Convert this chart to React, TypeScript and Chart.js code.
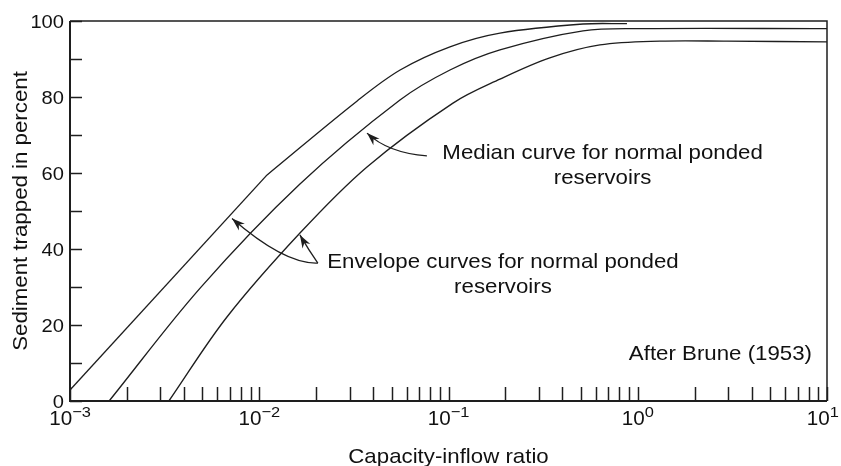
import React, { useEffect, useRef } from 'react';
import { Chart, registerables } from 'chart.js';

Chart.register(...registerables);

// ---- data (x = capacity-inflow ratio, y = % trapped) ----
// upper envelope: straight part up to the kink, then the curved part
const upperStraightX = [0.001, 0.011];
const upperStraightY = [2.9, 59.5];
const upperCurveX = [0.011, 0.0328, 0.0555, 0.1018, 0.187, 0.514, 0.877];
const upperCurveY = [59.5, 78.9, 87.1, 93.2, 96.8, 99.2, 99.3];

const medianX = [0.00161, 0.00487, 0.01641, 0.0554, 0.1018, 0.187, 0.514, 1.03, 10];
const medianY = [0, 29.7, 57.1, 79.2, 87.1, 92.4, 97.4, 98.0, 98.0];

const lowerX = [0.00333, 0.00675, 0.01641, 0.0371, 0.1056, 0.187, 0.343, 0.631, 1.31, 2.96, 10];
const lowerY = [0, 22.1, 44.2, 61.6, 78.4, 84.7, 90.3, 93.7, 94.7, 94.7, 94.5];

const xDecadeExponents = [-3, -2, -1, 0, 1];
const xMinorMultipliers = [1, 2, 3, 4, 5, 6, 7, 8, 9];
const yTickValues = [0, 10, 20, 30, 40, 50, 60, 70, 80, 90, 100];
const yLabelValues = [0, 20, 40, 60, 80, 100];

const xTitle = 'Capacity-inflow ratio';
const yTitle = 'Sediment trapped in percent';
const medianLabel = ['Median curve for normal ponded', 'reservoirs'];
const envelopeLabel = ['Envelope curves for normal ponded', 'reservoirs'];
const sourceLabel = 'After Brune (1953)';

// annotation anchors in data coordinates
const medianLabelAt = { x: 0.652, y: [63.7, 57.1] };
const envelopeLabelAt = { x: 0.194, y: [35.0, 28.4] };
const sourceLabelAt = { x: 8.33, y: 10.8 };
const medianArrow = { tail: [0.0769, 64.5], ctrl: [0.0479, 65.3], head: [0.0371, 70.5] };
const envelopeArrowUpper = { tail: [0.0204, 36.3], ctrl: [0.01368, 35.9], head: [0.00718, 48.0] };
const envelopeArrowLower = { tail: [0.0204, 36.3], ctrl: [0.0182, 39.8], head: [0.0164, 43.7] };

const FONT = '"Liberation Sans", Arial, Helvetica, sans-serif';
const SX = 1.06;
const INK = '#1e1e1e';
const TEXT = '#111111';

const toPts = (xs: number[], ys: number[]) => xs.map((x, i) => ({ x, y: ys[i] }));

function stretchText(ctx: CanvasRenderingContext2D, text: string, x: number, y: number, align: string, size: number) {
  ctx.save();
  ctx.font = `${size}px ${FONT}`;
  const w = ctx.measureText(text).width * SX;
  const left = align === 'center' ? x - w / 2 : align === 'right' ? x - w : x;
  ctx.translate(left, y);
  ctx.scale(SX, 1);
  ctx.textAlign = 'left';
  ctx.textBaseline = 'alphabetic';
  ctx.fillStyle = TEXT;
  ctx.fillText(text, 0, 0);
  ctx.restore();
}

function textWidth(ctx: CanvasRenderingContext2D, text: string, size: number) {
  ctx.save();
  ctx.font = `${size}px ${FONT}`;
  const w = ctx.measureText(text).width * SX;
  ctx.restore();
  return w;
}

function arrowHead(ctx: CanvasRenderingContext2D, hx: number, hy: number, fx: number, fy: number) {
  const a = Math.atan2(hy - fy, hx - fx);
  const L = 13, W = 4.5, N = 9;
  ctx.save();
  ctx.translate(hx, hy);
  ctx.rotate(a);
  ctx.beginPath();
  ctx.moveTo(0, 0);
  ctx.lineTo(-L, -W);
  ctx.lineTo(-N, 0);
  ctx.lineTo(-L, W);
  ctx.closePath();
  ctx.fillStyle = INK;
  ctx.fill();
  ctx.restore();
}

const decorPlugin = {
  id: 'decor',
  afterDraw(chart: any) {
    const ctx: CanvasRenderingContext2D = chart.ctx;
    const xs = chart.scales.x;
    const ys = chart.scales.y;
    const { left, right, top, bottom } = chart.chartArea;
    const P = (v: number[]) => [xs.getPixelForValue(v[0]), ys.getPixelForValue(v[1])];

    ctx.save();
    ctx.strokeStyle = INK;
    ctx.lineCap = 'butt';

    // frame
    ctx.lineWidth = 1.5;
    ctx.beginPath();
    ctx.moveTo(left, top);
    ctx.lineTo(right, top);
    ctx.lineTo(right, bottom);
    ctx.stroke();
    ctx.lineWidth = 2;
    ctx.beginPath();
    ctx.moveTo(left, top);
    ctx.lineTo(left, bottom);
    ctx.lineTo(right, bottom);
    ctx.stroke();

    // y ticks (inward)
    ctx.lineWidth = 1.5;
    yTickValues.forEach((v) => {
      const y = Math.round(ys.getPixelForValue(v)) + 0.5;
      ctx.beginPath();
      ctx.moveTo(left, y);
      ctx.lineTo(left + 12, y);
      ctx.stroke();
    });

    // x ticks (inward)
    xDecadeExponents.forEach((e) => {
      xMinorMultipliers.forEach((m) => {
        const v = m * Math.pow(10, e);
        if (v > 10 + 1e-9) return;
        const x = Math.round(xs.getPixelForValue(v)) + 0.5;
        ctx.beginPath();
        ctx.moveTo(x, bottom);
        ctx.lineTo(x, bottom - 14);
        ctx.stroke();
      });
    });

    // y labels
    yLabelValues.forEach((v) => {
      const y = ys.getPixelForValue(v);
      stretchText(ctx, String(v), left - 6, y + 7, 'right', 19);
    });

    // x labels 10^n
    xDecadeExponents.forEach((e) => {
      const x = xs.getPixelForValue(Math.pow(10, e));
      const sup = e < 0 ? '\u2212' + Math.abs(e) : String(e);
      const wb = textWidth(ctx, '10', 19.5);
      const ws = textWidth(ctx, sup, 15.5);
      let l = x - (wb + ws) / 2;
      if (l + wb + ws > 839) l = 839 - wb - ws;
      stretchText(ctx, '10', l, bottom + 24, 'left', 19.5);
      stretchText(ctx, sup, l + wb, bottom + 16, 'left', 15.5);
    });

    // axis titles
    stretchText(ctx, xTitle, (left + right) / 2, 463, 'center', 21);
    ctx.save();
    ctx.translate(27, (top + bottom) / 2);
    ctx.rotate(-Math.PI / 2);
    stretchText(ctx, yTitle, 0, 0, 'center', 21);
    ctx.restore();

    // annotation texts
    medianLabel.forEach((t, i) => {
      stretchText(ctx, t, xs.getPixelForValue(medianLabelAt.x), ys.getPixelForValue(medianLabelAt.y[i]), 'center', 21);
    });
    envelopeLabel.forEach((t, i) => {
      stretchText(ctx, t, xs.getPixelForValue(envelopeLabelAt.x), ys.getPixelForValue(envelopeLabelAt.y[i]), 'center', 21);
    });
    stretchText(ctx, sourceLabel, xs.getPixelForValue(sourceLabelAt.x), ys.getPixelForValue(sourceLabelAt.y), 'right', 21);

    // arrows
    ctx.lineWidth = 1.3;
    [medianArrow, envelopeArrowUpper, envelopeArrowLower].forEach((a) => {
      const t = P(a.tail), c = P(a.ctrl), h = P(a.head);
      ctx.beginPath();
      ctx.moveTo(t[0], t[1]);
      ctx.quadraticCurveTo(c[0], c[1], h[0], h[1]);
      ctx.stroke();
      arrowHead(ctx, h[0], h[1], c[0], c[1]);
    });

    ctx.restore();
  },
};

export default function App() {
  const ref = useRef<HTMLCanvasElement | null>(null);

  useEffect(() => {
    if (!ref.current) return;
    const line = (data: any[], tension: number) => ({
      data,
      borderColor: INK,
      borderWidth: 1.35,
      pointRadius: 0,
      fill: false,
      tension,
    });
    const chart = new Chart(ref.current, {
      type: 'line',
      data: {
        datasets: [
          line(toPts(upperStraightX, upperStraightY), 0),
          line(toPts(upperCurveX, upperCurveY), 0.35),
          line(toPts(medianX, medianY), 0.35),
          line(toPts(lowerX, lowerY), 0.35),
        ],
      },
      options: {
        responsive: false,
        animation: false,
        devicePixelRatio: 1,
        layout: { padding: { left: 70, top: 21, right: 14, bottom: 65 } },
        plugins: { legend: { display: false }, tooltip: { enabled: false } },
        scales: {
          x: { type: 'logarithmic', min: 0.001, max: 10, display: false },
          y: { type: 'linear', min: 0, max: 100, display: false },
        },
      },
      plugins: [decorPlugin],
    });
    return () => chart.destroy();
  }, []);

  return (
    <div style={{ position: 'absolute', left: 0, top: 0, width: 841, height: 466, background: '#fff' }}>
      <canvas ref={ref} width={841} height={466} style={{ display: 'block' }} />
    </div>
  );
}
